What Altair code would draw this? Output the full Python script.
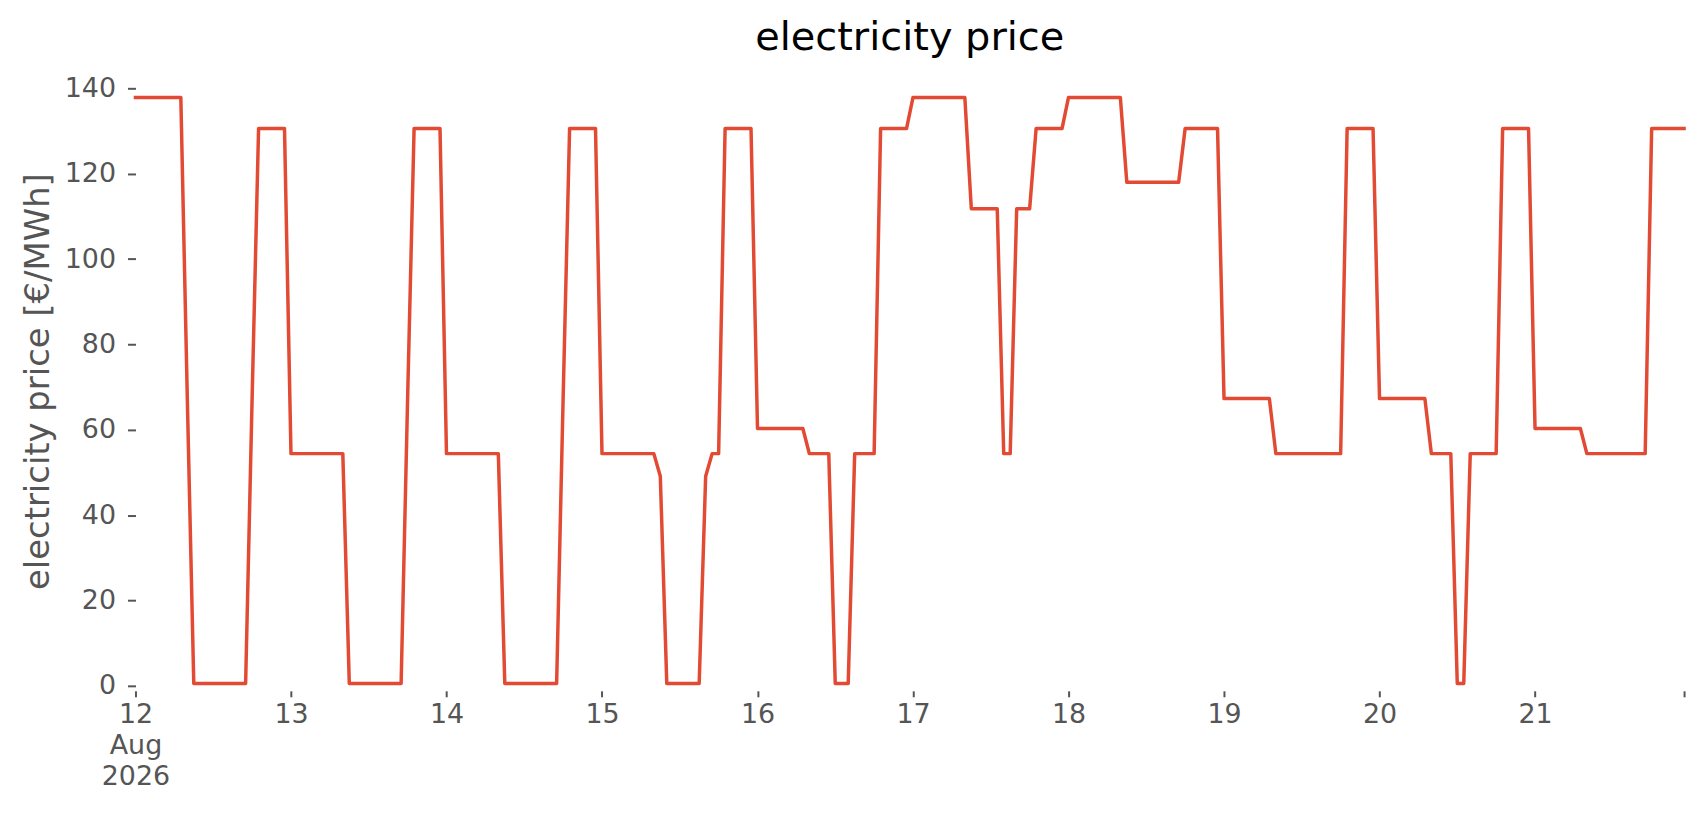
import altair as alt
import numpy as np
import pandas as pd

# Hourly electricity price, read from the reference as runs of constant value
# (value in EUR/MWh, number of consecutive hours), starting 2026-08-12 00:00.
run_values = [
    137.9, 67.3, 0.5, 67.3, 130.6,          # 12 Aug
    54.4, 0.5, 67.3, 130.6,                 # 13 Aug
    54.4, 0.5, 67.3, 130.6,                 # 14 Aug
    54.4, 49.1, 0.5, 49.1, 54.4, 130.6,     # 15 Aug
    60.3, 54.4, 0.5, 54.4, 130.6,           # 16 Aug
    137.9, 111.8, 54.4, 111.8, 130.6,       # 17 Aug
    137.9, 118.0, 130.6,                    # 18 Aug
    67.3, 54.4, 130.6,                      # 19 Aug
    67.3, 54.4, 0.5, 54.4, 130.6,           # 20 Aug
    60.3, 54.4, 130.6,                      # 21 Aug
]
run_hours = [
    8, 1, 9, 1, 5,
    9, 9, 1, 5,
    9, 9, 1, 5,
    9, 1, 6, 1, 2, 5,
    8, 4, 3, 4, 5,
    9, 5, 2, 3, 5,
    9, 9, 6,
    8, 11, 5,
    8, 4, 2, 5, 5,
    8, 10, 6,
]
start_time = "2026-08-12 00:00"
tick_days = [12, 13, 14, 15, 16, 17, 18, 19, 20, 21]
y_ticks = [0, 20, 40, 60, 80, 100, 120, 140]

prices = np.repeat(run_values, run_hours)
times = pd.date_range(start_time, periods=len(prices), freq="h")
df = pd.DataFrame({"time": times.strftime("%Y-%m-%dT%H:%M:%S"), "price": prices})

x_vals = [alt.DateTime(year=2026, month=8, date=d, hours=0) for d in tick_days]
x_vals.append(alt.DateTime(year=2026, month=8, date=21, hours=23))

label_expr = (
    "hours(datum.value) == 23 ? '' : "
    "(date(datum.value) == 12 ? ['12', 'Aug', '2026'] : '' + date(datum.value))"
)

FONT = "DejaVu Sans"
GREY = "#555555"

line = alt.Chart(df).mark_line(
    color="#E24A33", strokeWidth=3.5, strokeJoin="round", strokeCap="square"
).encode(
    x=alt.X(
        "time:T",
        scale=alt.Scale(
            domain=[
                alt.DateTime(year=2026, month=8, date=12, hours=0),
                alt.DateTime(year=2026, month=8, date=21, hours=23),
            ],
            nice=False,
        ),
        axis=alt.Axis(
            values=x_vals,
            labelExpr=label_expr,
            title=None,
            grid=False,
            domain=False,
            tickSize=6,
            tickWidth=2,
            tickColor=GREY,
            labelFont=FONT,
            labelFontSize=27,
            labelColor=GREY,
            labelPadding=5,
            labelAlign="center",
            labelBaseline="top",
            labelLineHeight=31,
            labelFlush=False,
            labelOverlap=False,
            labelBound=False,
        ),
    ),
    y=alt.Y(
        "price:Q",
        scale=alt.Scale(domain=[-1.2, 144], nice=False, zero=False),
        axis=alt.Axis(
            values=y_ticks,
            title="electricity price [€/MWh]",
            titleFont=FONT,
            titleFontSize=34,
            titleFontWeight="normal",
            titleColor=GREY,
            titleAngle=270,
            titleX=-87,
            titleY=311,
            titleAlign="center",
            titleBaseline="alphabetic",
            grid=False,
            domain=False,
            tickSize=8,
            tickWidth=2,
            tickColor=GREY,
            labelFont=FONT,
            labelFontSize=27,
            labelColor=GREY,
            labelPadding=12,
        ),
    ),
)

chart = line.properties(
    width=1555,
    height=622,
    background="white",
    title=alt.TitleParams(
        "electricity price",
        font=FONT,
        fontSize=40,
        fontWeight="normal",
        color="black",
        anchor="middle",
        baseline="alphabetic",
        offset=19,
        dy=38,
    ),
    autosize=alt.AutoSizeParams(type="none"),
    padding={"left": 128, "top": 62, "right": 14, "bottom": 110},
).configure_view(strokeWidth=0, stroke=None)

chart.save("out.html", embed_options={"renderer": "svg", "actions": False})
